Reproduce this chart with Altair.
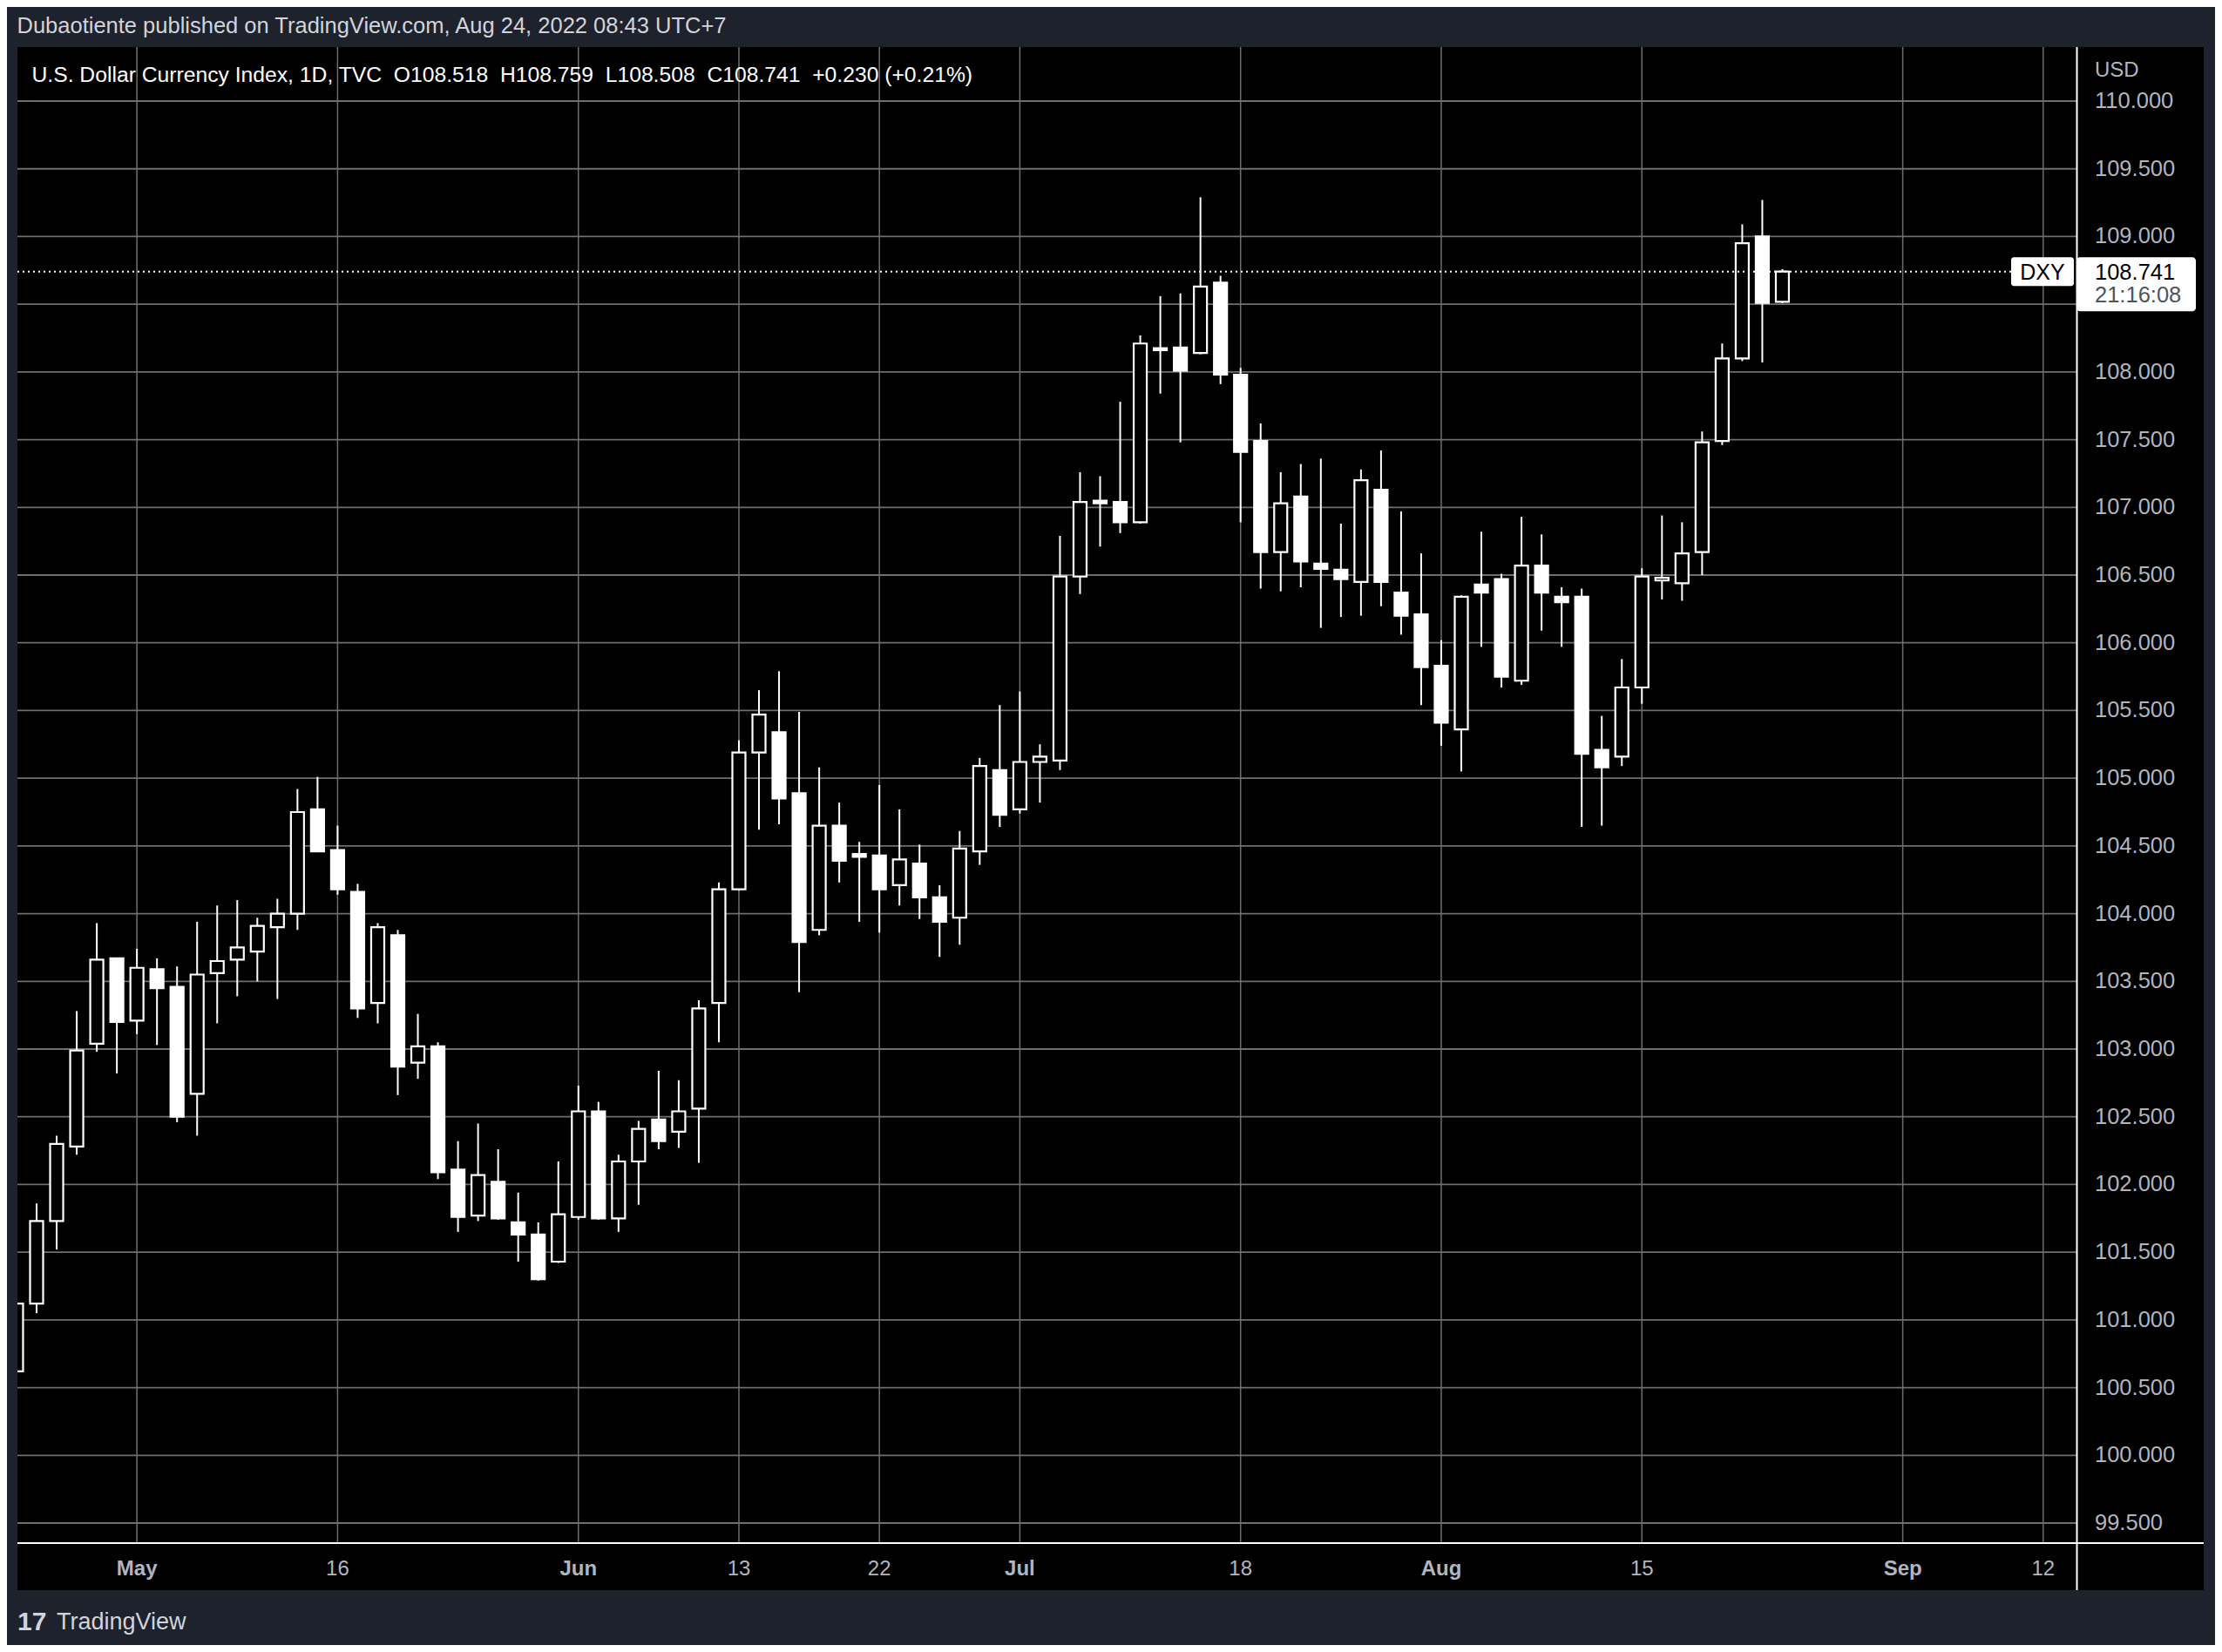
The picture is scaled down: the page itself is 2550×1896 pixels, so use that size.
import altair as alt
import numpy as np
import pandas as pd

# ---------------- data ----------------
dates = [
    "2022-04-22", "2022-04-25", "2022-04-26", "2022-04-27", "2022-04-28", "2022-04-29",
    "2022-05-02", "2022-05-03", "2022-05-04", "2022-05-05", "2022-05-06",
    "2022-05-09", "2022-05-10", "2022-05-11", "2022-05-12", "2022-05-13",
    "2022-05-16", "2022-05-17", "2022-05-18", "2022-05-19", "2022-05-20",
    "2022-05-23", "2022-05-24", "2022-05-25", "2022-05-26", "2022-05-27",
    "2022-05-30", "2022-05-31", "2022-06-01", "2022-06-02", "2022-06-03",
    "2022-06-06", "2022-06-07", "2022-06-08", "2022-06-09", "2022-06-10",
    "2022-06-13", "2022-06-14", "2022-06-15", "2022-06-16", "2022-06-17",
    "2022-06-20", "2022-06-21", "2022-06-22", "2022-06-23", "2022-06-24",
    "2022-06-27", "2022-06-28", "2022-06-29", "2022-06-30", "2022-07-01",
    "2022-07-04", "2022-07-05", "2022-07-06", "2022-07-07", "2022-07-08",
    "2022-07-11", "2022-07-12", "2022-07-13", "2022-07-14", "2022-07-15",
    "2022-07-18", "2022-07-19", "2022-07-20", "2022-07-21", "2022-07-22",
    "2022-07-25", "2022-07-26", "2022-07-27", "2022-07-28", "2022-07-29",
    "2022-08-01", "2022-08-02", "2022-08-03", "2022-08-04", "2022-08-05",
    "2022-08-08", "2022-08-09", "2022-08-10", "2022-08-11", "2022-08-12",
    "2022-08-15", "2022-08-16", "2022-08-17", "2022-08-18", "2022-08-19",
    "2022-08-22", "2022-08-23", "2022-08-24",
]
opens = [
    100.62, 101.12, 101.73, 102.28, 103.04, 103.67,
    103.21, 103.59, 103.46, 102.67, 103.56,
    103.66, 103.72, 103.90, 104.00, 104.77,
    104.47, 104.16, 103.34, 103.84, 102.90,
    103.02, 102.11, 101.77, 102.02, 101.72,
    101.63, 101.43, 101.76, 102.54, 101.75,
    102.17, 102.48, 102.39, 102.56, 103.34,
    104.18, 105.19, 105.34, 104.89, 103.88,
    104.65, 104.44, 104.43, 104.21, 104.37,
    104.12, 103.97, 104.46, 105.06, 104.77,
    105.12, 105.13, 106.49, 107.05, 107.04,
    106.89, 108.175, 108.18, 108.14, 108.66,
    107.98, 107.49, 106.67, 107.08, 106.585,
    106.54, 106.45, 107.13, 106.37, 106.21,
    105.83, 105.36, 106.43, 106.47, 105.72,
    106.57, 106.34, 106.34, 105.21, 105.16,
    105.67, 106.46, 106.44, 106.67, 107.49,
    108.10, 109.00, 108.518,
]
highs = [
    101.35, 101.86, 102.36, 103.28, 103.93, 103.67,
    103.74, 103.67, 103.61, 103.94, 104.06,
    104.10, 103.97, 104.11, 104.92, 105.01,
    104.65, 104.22, 103.93, 103.88, 103.26,
    103.05, 102.32, 102.45, 102.26, 101.94,
    101.72, 102.17, 102.73, 102.61, 102.22,
    102.47, 102.84, 102.77, 103.36, 104.23,
    105.28, 105.65, 105.79, 105.49, 105.08,
    104.82, 104.53, 104.95, 104.77, 104.51,
    104.21, 104.61, 105.15, 105.54, 105.64,
    105.25, 106.79, 107.26, 107.23, 107.78,
    108.27, 108.56, 108.58, 109.29, 108.71,
    108.03, 107.62, 107.26, 107.32, 107.36,
    106.88, 107.28, 107.42, 106.97, 106.66,
    106.02, 106.35, 106.82, 106.51, 106.93,
    106.80, 106.41, 106.40, 105.46, 105.88,
    106.55, 106.94, 106.89, 107.56, 108.21,
    109.09, 109.27, 108.759,
]
lows = [
    100.55, 101.05, 101.52, 102.22, 102.98, 102.82,
    103.11, 103.03, 102.46, 102.36, 103.19,
    103.39, 103.50, 103.37, 103.88, 104.46,
    104.14, 103.23, 103.19, 102.66, 102.78,
    102.04, 101.65, 101.73, 101.74, 101.43,
    101.29, 101.42, 101.74, 101.74, 101.65,
    101.85, 102.26, 102.27, 102.16, 103.05,
    104.17, 104.62, 104.66, 103.42, 103.84,
    104.23, 103.94, 103.86, 104.06, 103.96,
    103.68, 103.77, 104.36, 104.64, 104.74,
    104.82, 105.06, 106.36, 106.71, 106.81,
    106.88, 107.84, 107.48, 108.13, 107.91,
    106.89, 106.40, 106.38, 106.41, 106.11,
    106.19, 106.20, 106.27, 106.06, 105.54,
    105.24, 105.05, 105.97, 105.67, 105.69,
    106.09, 105.97, 104.64, 104.65, 105.09,
    105.55, 106.32, 106.31, 106.50, 107.46,
    108.08, 108.07, 108.508,
]
closes = [
    101.12, 101.73, 102.30, 102.99, 103.66, 103.20,
    103.60, 103.45, 102.50, 103.55, 103.65,
    103.75, 103.91, 104.00, 104.75, 104.46,
    104.18, 103.30, 103.90, 102.87, 103.02,
    102.09, 101.76, 102.07, 101.75, 101.63,
    101.30, 101.78, 102.54, 101.75, 102.17,
    102.41, 102.32, 102.54, 103.30, 104.18,
    105.19, 105.47, 104.85, 103.79, 104.65,
    104.39, 104.42, 104.18, 104.40, 104.12,
    103.94, 104.48, 105.09, 104.73, 105.12,
    105.16, 106.49, 107.04, 107.03, 106.89,
    108.21, 108.16, 108.01, 108.63, 107.98,
    107.41, 106.67, 107.03, 106.60, 106.545,
    106.47, 107.20, 106.45, 106.20, 105.82,
    105.41, 106.34, 106.37, 105.75, 106.57,
    106.37, 106.30, 105.18, 105.08, 105.67,
    106.49, 106.48, 106.66, 107.48, 108.10,
    108.95, 108.51, 108.741,
]

tick_dates = ["2022-05-02", "2022-05-16", "2022-06-01", "2022-06-13", "2022-06-22",
              "2022-07-01", "2022-07-18", "2022-08-01", "2022-08-15", "2022-09-01",
              "2022-09-12"]
tick_labels = ["May", "16", "Jun", "13", "22", "Jul", "18", "Aug", "15", "Sep", "12"]
month_labels = ["May", "Jun", "Jul", "Aug", "Sep"]
price_ticks = [99.5, 100.0, 100.5, 101.0, 101.5, 102.0, 102.5, 103.0, 103.5, 104.0,
               104.5, 105.0, 105.5, 106.0, 106.5, 107.0, 107.5, 108.0, 108.5, 109.0,
               109.5, 110.0]

header_text = "Dubaotiente published on TradingView.com, Aug 24, 2022 08:43 UTC+7"
legend_text = ("U.S. Dollar Currency Index, 1D, TVC\u00a0\u00a0O108.518\u00a0\u00a0H108.759"
               "\u00a0\u00a0L108.508\u00a0\u00a0C108.741\u00a0\u00a0+0.230 (+0.21%)")
symbol = "DXY"
last_price = 108.741
last_price_text = "108.741"
countdown = "21:16:08"
currency = "USD"
brand = "TradingView"

# ---------------- tables ----------------
start = dates[0]
df = pd.DataFrame({
    "date": dates,
    "i": np.busday_count(start, dates),
    "o": opens, "h": highs, "l": lows, "c": closes,
})
tick_idx = [int(v) for v in np.busday_count(start, tick_dates)]
ticks_df = pd.DataFrame({
    "i": tick_idx,
    "lab": tick_labels,
    "m": [s in month_labels for s in tick_labels],
})
price_df = pd.DataFrame({"v": price_ticks})
last = pd.DataFrame({"p": [last_price], "t": [last_price_text], "cd": [countdown], "s": [symbol]})
one = pd.DataFrame({"k": [0]})

FONT = "Liberation Sans"
W, H = 2363, 1717
AXIS_GRAY = "#B2B5BE"
GRID = "#6E6E6E"

xs = alt.Scale(domain=[0.262, 102.44], nice=False, zero=False)
ys = alt.Scale(domain=[99.352, 110.399], nice=False, zero=False)

# ---------------- grid (drawn from the tick lists through the scales) ----------------
hgrid = alt.Chart(price_df).mark_rule(color=GRID, strokeWidth=1.8).encode(
    y=alt.Y("v:Q", scale=ys, axis=None), x=alt.value(0), x2=alt.value(W))
vgrid = alt.Chart(ticks_df).mark_rule(color=GRID, strokeWidth=1.5).encode(
    x=alt.X("i:Q", scale=xs, axis=None), y=alt.value(0), y2=alt.value(H))

# price labels; the one hidden under the last-price tag is left out, as in the original
price_labels = alt.Chart(price_df).transform_filter(
    "!(datum.v <= %f && datum.v > %f)" % (last_price, last_price - 0.3)
).transform_calculate(
    lab="format(datum.v, '.3f')"
).mark_text(font=FONT, fontSize=25.5, color=AXIS_GRAY, align="left", baseline="middle").encode(
    y=alt.Y("v:Q", scale=ys, axis=None), x=alt.value(W + 21), text="lab:N")

def time_text(bold):
    return alt.Chart(ticks_df).transform_filter(
        "datum.m" if bold else "!datum.m"
    ).mark_text(
        font=FONT, fontSize=24, color=AXIS_GRAY, align="center", baseline="middle",
        fontWeight="bold" if bold else "normal").encode(
        x=alt.X("i:Q", scale=xs, axis=None),
        y=alt.value(H + 30),
        text="lab:N",
    )

# ---------------- candles ----------------
base = alt.Chart(df)
wicks = base.mark_rule(color="white", strokeWidth=2, clip=True).encode(
    x=alt.X("i:Q", scale=xs, axis=None),
    y=alt.Y("l:Q", scale=ys, axis=None),
    y2="h:Q",
)
bodies = base.mark_bar(size=15, stroke="white", strokeWidth=2.2, clip=True).encode(
    x=alt.X("i:Q", scale=xs, axis=None),
    y=alt.Y("o:Q", scale=ys, axis=None),
    y2="c:Q",
    fill=alt.condition("datum.c >= datum.o", alt.value("black"), alt.value("white")),
)

# ---------------- frame / decorations ----------------
def band(x, x2, y, y2, color="#1E222D"):
    return alt.Chart(one).mark_rect(color=color).encode(
        x=alt.value(x), x2=alt.value(x2), y=alt.value(y), y2=alt.value(y2))

frame = [
    band(-12, 2522, -46, 0),
    band(-12, 0, -46, 1834),
    band(2509, 2522, -46, 1834),
    band(-12, 2522, 1771, 1834),
]

sep_v = alt.Chart(one).mark_rule(color="white", strokeWidth=2).encode(
    x=alt.value(W + 0.5), y=alt.value(0), y2=alt.value(1771))
sep_h = alt.Chart(one).mark_rule(color="white", strokeWidth=2).encode(
    x=alt.value(0), x2=alt.value(2509), y=alt.value(H))

dotted = alt.Chart(last).mark_rule(color="white", strokeWidth=2, strokeDash=[2, 4]).encode(
    x=alt.value(0), x2=alt.value(2288), y=alt.Y("p:Q", scale=ys, axis=None))

tag_box = alt.Chart(last).mark_rect(color="white", cornerRadius=3, yOffset=-16.5, y2Offset=16.5).encode(
    x=alt.value(2288), x2=alt.value(2360),
    y=alt.Y("p:Q", scale=ys, axis=None), y2="p:Q")
tag_text = alt.Chart(last).mark_text(color="black", font=FONT, fontSize=25,
                                     align="center", baseline="middle", dy=1).encode(
    x=alt.value(2324), y=alt.Y("p:Q", scale=ys, axis=None), text="s:N")

price_box = alt.Chart(last).mark_rect(color="white", cornerRadius=4, yOffset=-16.5, y2Offset=45.5).encode(
    x=alt.value(2363), x2=alt.value(2500),
    y=alt.Y("p:Q", scale=ys, axis=None), y2="p:Q")
price_text = alt.Chart(last).mark_text(color="black", font=FONT, fontSize=25.5,
                                       align="left", baseline="middle", dy=1).encode(
    x=alt.value(2384), y=alt.Y("p:Q", scale=ys, axis=None), text="t:N")
cd_text = alt.Chart(last).mark_text(color="#50535E", font=FONT, fontSize=25.5,
                                    align="left", baseline="middle", dy=27).encode(
    x=alt.value(2384), y=alt.Y("p:Q", scale=ys, axis=None), text="cd:N")

def label(text, x, y, size, color, weight="normal", align="left"):
    return alt.Chart(pd.DataFrame({"t": [text]})).mark_text(
        font=FONT, fontSize=size, color=color, fontWeight=weight,
        align=align, baseline="middle").encode(
        x=alt.value(x), y=alt.value(y), text="t:N")

header = label(header_text, -0.5, -24, 25.5, "#D1D4DC")
legend = label(legend_text, 16.5, 33, 24.7, "#FFFFFF")
usd = label(currency, 2384, 27, 24, AXIS_GRAY)
logo_icon = label("17", 0, 1808, 30, "#D1D4DC", weight="bold")
logo_text = label(brand, 45, 1808, 27, "#D1D4DC")

chart = alt.layer(
    hgrid, vgrid, wicks, bodies, price_labels, time_text(True), time_text(False),
    *frame, sep_v, sep_h, dotted,
    tag_box, tag_text, price_box, price_text, cd_text,
    header, legend, usd, logo_icon, logo_text,
).properties(
    width=W, height=H,
    autosize=alt.AutoSizeParams(type="none"),
    padding={"left": 12, "top": 46, "right": 159, "bottom": 117},
    background="black",
).configure_view(stroke=None)

chart.save("out.html", embed_options={"renderer": "svg", "actions": False})
